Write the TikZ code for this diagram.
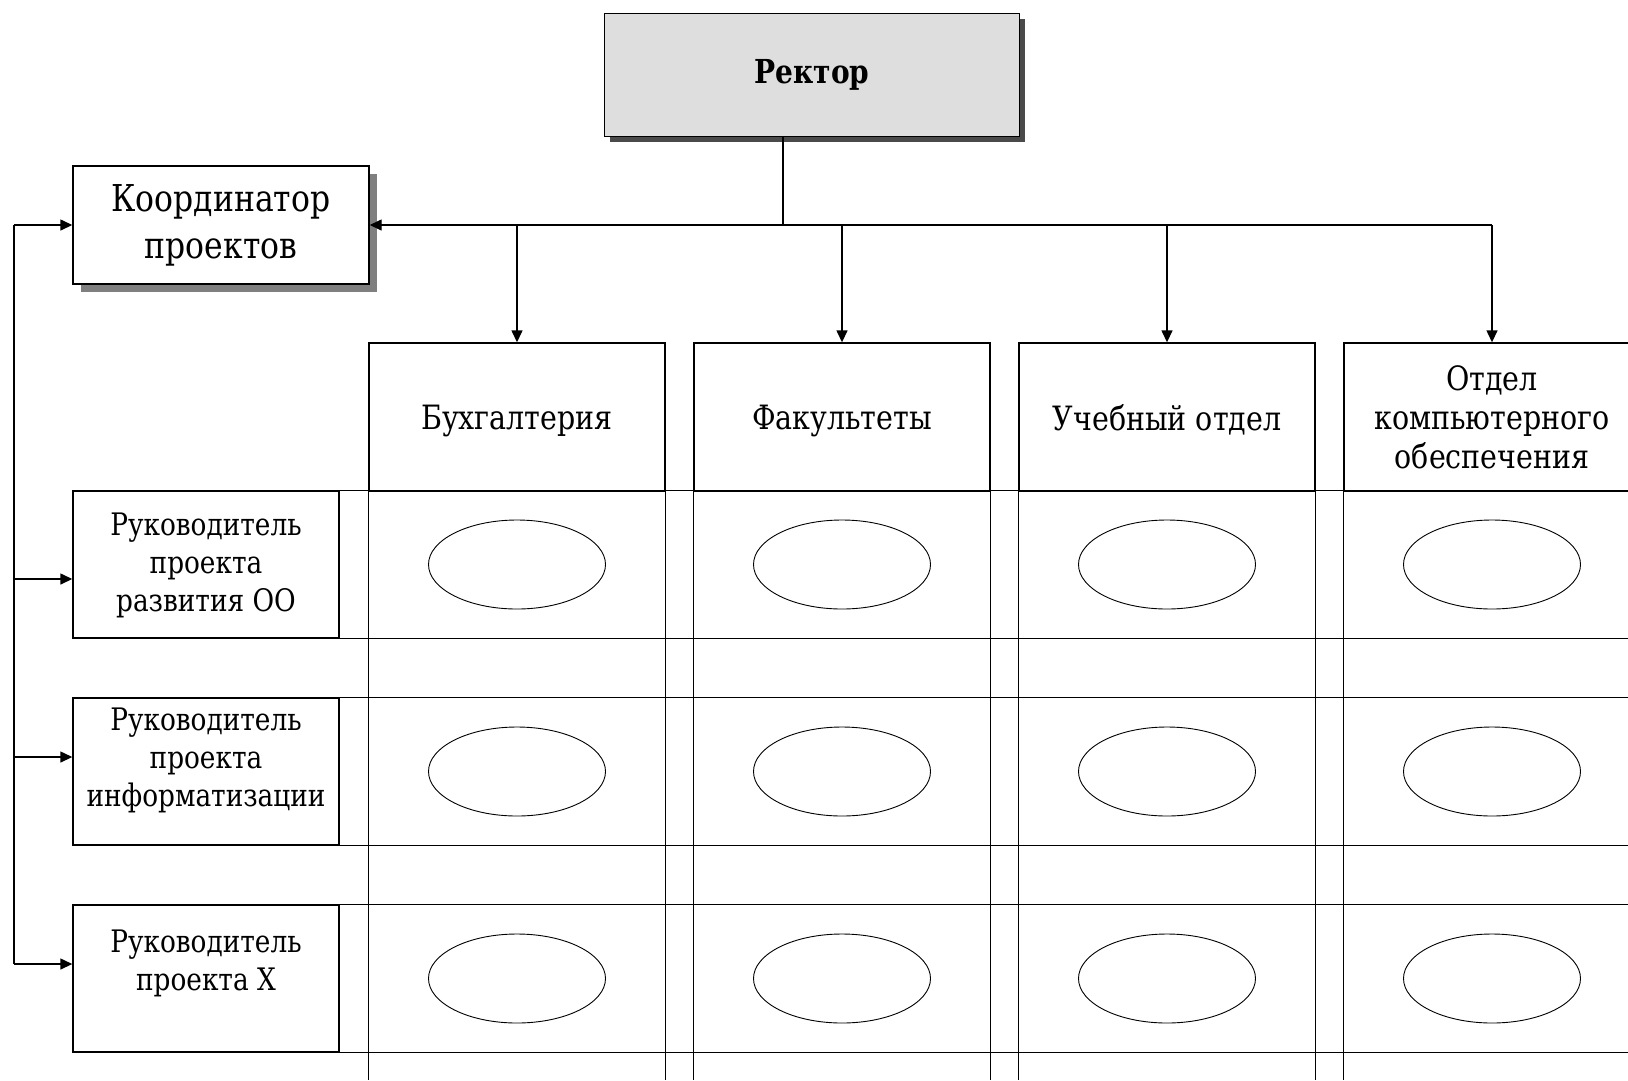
\documentclass[tikz,border=0pt]{standalone}
\usepackage{fontspec}
\setmainfont{DejaVu Serif}[FakeStretch=0.85]
\usepackage{tikz}
\usetikzlibrary{arrows.meta,calc,positioning,shadows,shapes.geometric}
\definecolor{Paper}{HTML}{DEDEDE}
\definecolor{Shade}{HTML}{7F7F7F}
\definecolor{Dark}{HTML}{4A4A4A}

\begin{document}
\begin{tikzpicture}[x=1pt,y=-1pt,line width=1.4pt,>={Triangle[length=12pt,width=11pt]},
    headbox/.style={draw,minimum width=296pt,minimum height=148pt,inner sep=0pt,align=center,font=\fontsize{33.5}{39}\selectfont},
    oneline/.style={text depth=0pt},
    threeline/.style={},
    rowbox/.style={draw,minimum width=266pt,minimum height=147pt,inner sep=0pt},
    rowtext/.style={inner sep=0pt,align=center,font=\fontsize{31}{38}\selectfont},
    cell/.style={draw,ellipse,line width=.9pt,minimum width=177pt,minimum height=89pt,inner sep=0pt}]
        \useasboundingbox (0,0) rectangle (1628,1080);
        \clip (0,0) rectangle (1628,1080);
        \coordinate (bus) at (783,225);
        \coordinate (feed) at (14,225);
        \coordinate (floor) at (0,1080);
        \coordinate (edge) at (1640,0);
        \node[draw,fill=Paper,drop shadow={shadow xshift=5pt,shadow yshift=-5pt,fill=Dark,opacity=1},minimum width=415pt,minimum height=123pt,font=\bfseries\fontsize{33}{40}\selectfont] (rector) at (812,75) {Ректор};
        \node[draw,fill=white,drop shadow={shadow xshift=8pt,shadow yshift=-8pt,fill=Shade,opacity=1},minimum width=296pt,minimum height=118pt,align=center,font=\fontsize{37}{47}\selectfont] (coord) at (221,225) {Координатор\\проектов};
        \draw (bus |- rector.south) -- (bus);
        % departments
        \foreach \i/\txt/\kind in {1/Бухгалтерия/oneline,2/Факультеты/oneline,3/Учебный отдел/oneline,4/{Отдел\\компьютерного\\обеспечения}/threeline}{
          \node[headbox,\kind] (h\i) at ({517+325*(\i-1)},417) {\txt};
          \draw (h\i.south west) -- (h\i.south west |- floor);
          \draw (h\i.south east) -- (h\i.south east |- floor);
          \draw[->] (h\i.north |- bus) -- (h\i.north);}
        \draw[->] (h4.north |- bus) -- (coord.east);
        % project leaders
        \foreach \j/\y/\gap/\dy/\txt in {1/564.5/22/14.5/{Руководитель\\проекта\\развития ОО},2/771.5/10/-14.5/{Руководитель\\проекта\\информатизации},3/978.5/25/-14.5/{Руководитель\\проекта X}}{
          \node[rowbox] (r\j) at (206,\y) {};
          \node[rowtext,below=\gap pt of r\j.north] (t\j) {\txt};
          \draw (r\j.north east) -- (r\j.north east -| edge);
          \draw (r\j.south east) -- (r\j.south east -| edge);
          \coordinate (in\j) at ($(r\j.west)+(0,\dy)$);
          \draw[->] (feed |- in\j) -- (in\j);
          \foreach \i in {1,...,4}
            \node[cell] (e\i\j) at (h\i |- r\j) {};}
        \draw[->] (feed) -- (coord.west);
        \draw (feed) -- (feed |- in3);
\end{tikzpicture}
\end{document}
